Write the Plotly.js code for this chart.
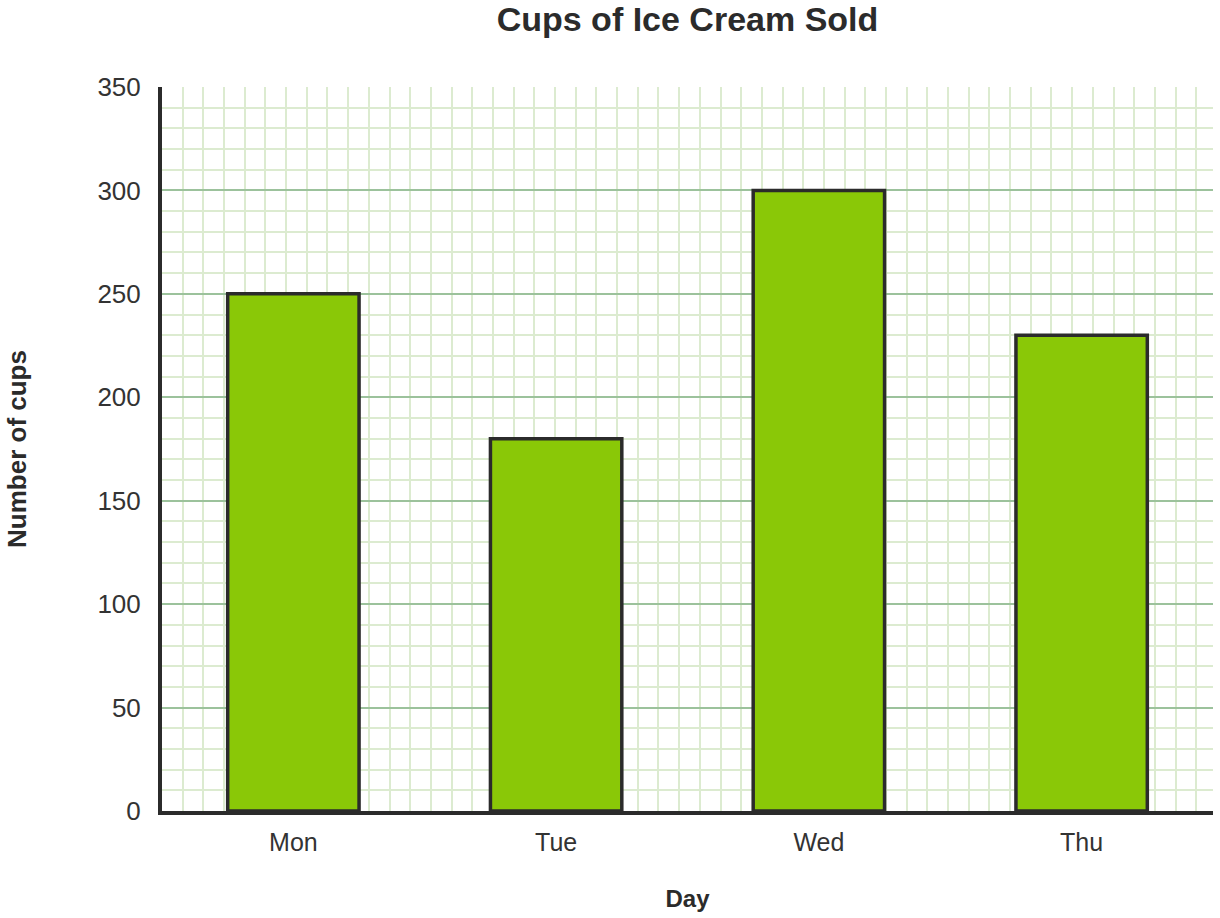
<!DOCTYPE html>
<html>
<head>
<meta charset="utf-8">
<script src="https://cdn.plot.ly/plotly-3.0.1.min.js"></script>
<style>
  body { margin: 0; background: #fff; }
  #chart { width: 1220px; height: 918px; }
</style>
</head>
<body>
<div id="chart"></div>
<script>
var days = ['Mon', 'Tue', 'Wed', 'Thu'];
var cups = [250, 180, 300, 230];

var positions = days.map(function (d, i) { return i; });

// square grid cells: 10 cups high, same pixel width along x
var plotW = 1051, plotH = 724;
var cellX = (10 / 350 * plotH) / (plotW / days.length);

var bars = [{
  type: 'bar',
  x: positions,
  y: cups,
  width: 0.5,
  marker: { color: '#8ac807', line: { color: '#2b2b2b', width: 3.5 } },
  hoverinfo: 'y'
}];

var layout = {
  width: 1220,
  height: 918,
  margin: { l: 162, r: 7, t: 87, b: 107 },
  paper_bgcolor: '#fff',
  plot_bgcolor: '#fff',
  font: { family: 'Liberation Sans, Arial, sans-serif', color: '#333' },
  showlegend: false,
  title: {
    text: '<b>Cups of Ice Cream Sold</b>',
    font: { size: 34, color: '#2b2b2b' },
    x: 0.5, xref: 'paper', y: 0.979, yanchor: 'middle'
  },
  xaxis: {
    range: [-0.5, days.length - 0.5],
    tickmode: 'array',
    tickvals: positions,
    ticktext: days,
    tickfont: { size: 25, color: '#333' },
    ticks: '',
    ticklabelstandoff: 6,
    showgrid: false,
    zeroline: false,
    showline: true,
    linecolor: '#2b2b2b',
    linewidth: 4,
    minor: { tick0: -0.5, dtick: cellX, showgrid: true, gridcolor: '#dcebd0', gridwidth: 2, ticks: '' },
    title: { text: '<b>Day</b>', font: { size: 24, color: '#2b2b2b' }, standoff: 36 },
    automargin: true,
    fixedrange: true
  },
  yaxis: {
    range: [0, 350],
    dtick: 50,
    tickfont: { size: 26, color: '#333' },
    ticks: '',
    ticklabelstandoff: 12,
    showgrid: true,
    gridcolor: '#9cc29c',
    gridwidth: 2,
    zeroline: false,
    showline: true,
    linecolor: '#2b2b2b',
    linewidth: 4,
    minor: { dtick: 10, showgrid: true, gridcolor: '#dcebd0', gridwidth: 2, ticks: '' },
    title: { text: '<b>Number of cups</b>', font: { size: 26, color: '#2b2b2b' }, standoff: 64 },
    automargin: true,
    fixedrange: true
  }
};

Plotly.newPlot('chart', bars, layout, { displayModeBar: false, staticPlot: true });
</script>
</body>
</html>
